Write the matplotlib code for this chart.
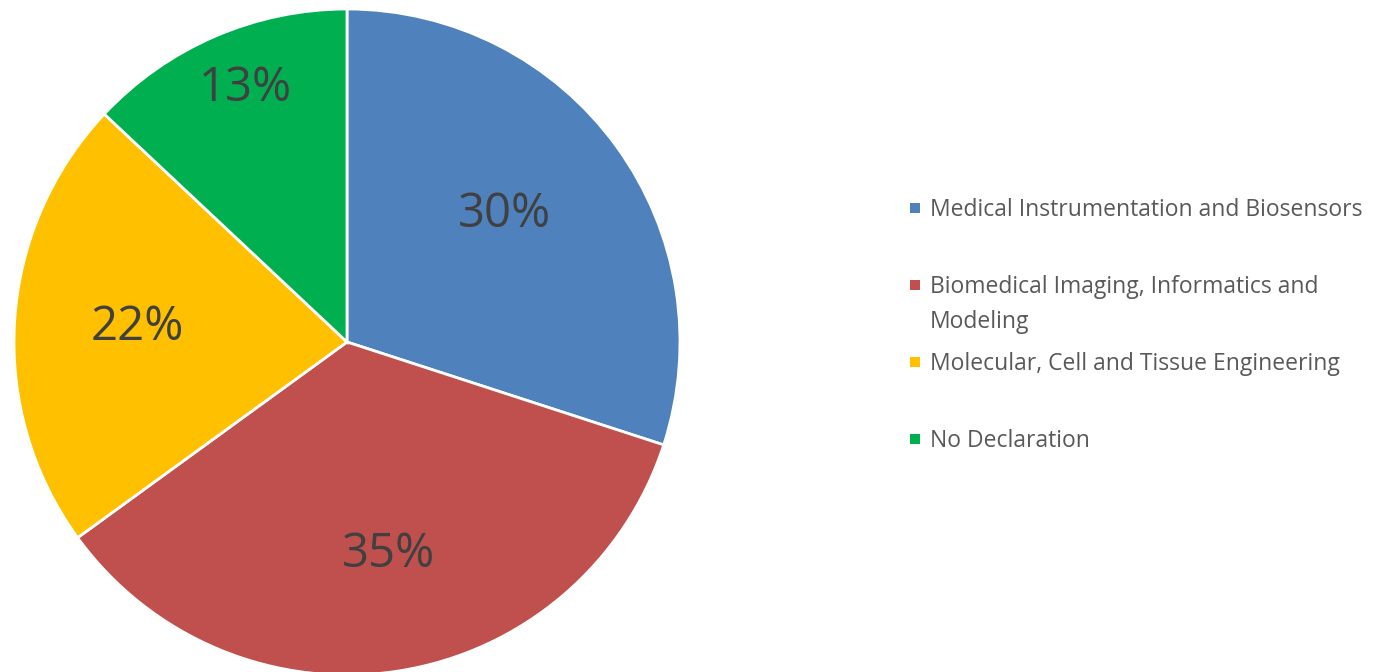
import matplotlib
matplotlib.use("Agg")
from matplotlib import pyplot as plt
import numpy as np

categories = ["Medical Instrumentation and Biosensors",
              "Biomedical Imaging, Informatics and\nModeling",
              "Molecular, Cell and Tissue Engineering",
              "No Declaration"]
shares = [30, 35, 22, 13]
colors = ["#4F81BD", "#C0504D", "#FFC000", "#00B050"]
# placement of each percentage label: distance (fraction of radius) and angle nudge (deg)
label_dist = [0.61, 0.65, 0.632, 0.82]
label_nudge = [3.0, 2.0, -0.5, -1.5]

plt.rcParams['font.family'] = ['Open Sans', 'DejaVu Sans']

W, H = 1373, 672
fig = plt.figure(figsize=(W / 100, H / 100), dpi=100)
ax = fig.add_axes([0, 0, 1, 1])
ax.axis("off")

cx, cy, r = 347, H - 342, 333
wedges, _ = ax.pie(shares, colors=colors, startangle=90, counterclock=False,
                   center=(cx, cy), radius=r,
                   wedgeprops=dict(edgecolor="white", linewidth=2))
ax.set_xlim(0, W)
ax.set_ylim(0, H)
ax.set_aspect("equal")

for w, s, d, n in zip(wedges, shares, label_dist, label_nudge):
    ang = np.deg2rad((w.theta1 + w.theta2) / 2 + n)
    ax.text(cx + d * r * np.cos(ang), cy + d * r * np.sin(ang), "{}%".format(s),
            ha="center", va="center", fontsize=34, color="#404040")

# legend, Excel style: equal step, text top-aligned with marker
for i, (lab, c) in enumerate(zip(categories, colors)):
    y = H - (208 + 77 * i)
    ax.scatter([915], [y], marker="s", s=50, color=c, edgecolors="none")
    ax.text(930, y + 10, lab, ha="left", va="top", fontsize=16.5,
            color="#595959", linespacing=1.6)

fig.savefig("out.png", dpi=100)
